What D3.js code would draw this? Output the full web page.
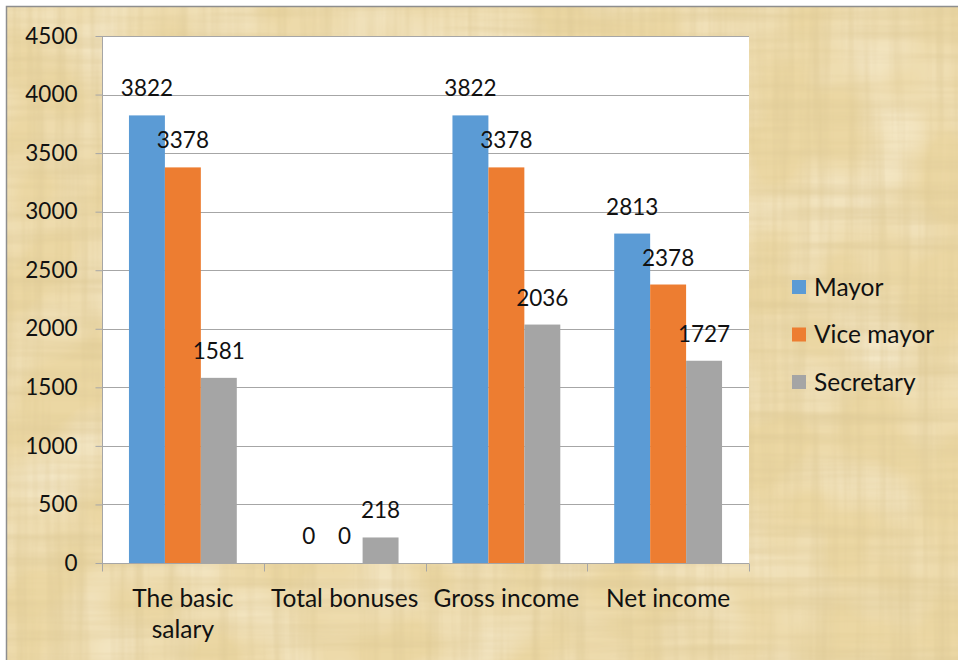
<!DOCTYPE html>
<html><head><meta charset="utf-8">
<script src="https://cdn.jsdelivr.net/npm/d3@7"></script>
<style>html,body{margin:0;padding:0;background:#fff;}svg{display:block;}</style>
</head><body>
<script>
const categories = ["The basic salary", "Total bonuses", "Gross income", "Net income"];
const seriesNames = ["Mayor", "Vice mayor", "Secretary"];
const mayor = [3822, 0, 3822, 2813];
const viceMayor = [3378, 0, 3378, 2378];
const secretary = [1581, 218, 2036, 1727];
const yTicks = [0, 500, 1000, 1500, 2000, 2500, 3000, 3500, 4000, 4500];
const colors = ["#5b9bd5", "#ed7d31", "#a5a5a5"];

const series = [mayor, viceMayor, secretary];
const W = 958, H = 660;
const plot = {l: 102, r: 749, t: 36, b: 563};
const FONT = "Lato, 'Open Sans', sans-serif";
const NUM_SIZE = 22.5, TXT_SIZE = 24.5;

const svg = d3.select("body").append("svg").attr("width", W).attr("height", H);
const defs = svg.append("defs");

const f = defs.append("filter").attr("id", "paper").attr("x", 0).attr("y", 0).attr("width", "100%").attr("height", "100%");
f.append("feTurbulence").attr("type", "fractalNoise").attr("baseFrequency", "0.004 0.09").attr("numOctaves", 3).attr("seed", 4).attr("result", "v");
f.append("feColorMatrix").attr("in", "v").attr("type", "matrix")
  .attr("values", "0 0 0 0 0.72  0 0 0 0 0.58  0 0 0 0 0.3  0 0 0 1.1 -0.42").attr("result", "vc");
f.append("feTurbulence").attr("type", "fractalNoise").attr("baseFrequency", "0.09 0.004").attr("numOctaves", 3).attr("seed", 9).attr("result", "h");
f.append("feColorMatrix").attr("in", "h").attr("type", "matrix")
  .attr("values", "0 0 0 0 0.72  0 0 0 0 0.58  0 0 0 0 0.3  0 0 0 1.1 -0.44").attr("result", "hc");
f.append("feTurbulence").attr("type", "fractalNoise").attr("baseFrequency", "0.012").attr("numOctaves", 2).attr("seed", 2).attr("result", "m");
f.append("feColorMatrix").attr("in", "m").attr("type", "matrix")
  .attr("values", "0 0 0 0 0.98  0 0 0 0 0.92  0 0 0 0 0.76  0 0 0 1.2 -0.45").attr("result", "mc");
const merge = f.append("feMerge");
merge.append("feMergeNode").attr("in", "SourceGraphic");
merge.append("feMergeNode").attr("in", "mc");
merge.append("feMergeNode").attr("in", "vc");
merge.append("feMergeNode").attr("in", "hc");

svg.append("rect").attr("x", 6).attr("y", 6).attr("width", W - 6).attr("height", H - 6)
  .attr("fill", "#ebd7a3").attr("filter", "url(#paper)");
svg.append("path").attr("d", `M6.5,${H}V6.5H${W}`).attr("fill", "none").attr("stroke", "#8e8e8e").attr("stroke-width", 1.5);

svg.append("rect").attr("x", plot.l).attr("y", plot.t).attr("width", plot.r - plot.l).attr("height", plot.b - plot.t).attr("fill", "#fff");

const y = d3.scaleLinear().domain([0, 4500]).range([plot.b, plot.t]);
const x0 = d3.scaleBand().domain(categories).range([plot.l, plot.r]).padding(0);
const barW = x0.bandwidth() / 4.5;
const x1 = d3.scaleBand().domain(seriesNames).range([0.75 * barW, 3.75 * barW]).padding(0);

// gridlines
svg.append("g").selectAll("line").data(yTicks.filter(d => d > 0)).join("line")
  .attr("x1", plot.l).attr("x2", plot.r)
  .attr("y1", d => Math.round(y(d)) + 0.5).attr("y2", d => Math.round(y(d)) + 0.5)
  .attr("stroke", "#a6a6a6").attr("stroke-width", 1);

// y axis
const yAxis = svg.append("g").attr("transform", `translate(${plot.l + 0.5},0)`)
  .call(d3.axisLeft(y).tickValues(yTicks).tickSize(7).tickPadding(18).tickFormat(d3.format("d")));
yAxis.select(".domain").attr("stroke", "#a6a6a6").attr("d", `M0,${plot.t}V${plot.b}`);
yAxis.selectAll(".tick line").attr("stroke", "#a6a6a6");
yAxis.selectAll(".tick text").attr("font-family", FONT).attr("font-size", NUM_SIZE).attr("fill", "#111");

// bars
const groups = svg.append("g").selectAll("g").data(categories).join("g")
  .attr("transform", c => `translate(${x0(c)},0)`);
groups.selectAll("rect").data((c, i) => seriesNames.map((s, j) => ({s, j, v: series[j][i]}))).join("rect")
  .attr("x", d => x1(d.s)).attr("width", x1.bandwidth())
  .attr("y", d => y(d.v)).attr("height", d => y(0) - y(d.v))
  .attr("fill", d => colors[d.j]);

// x axis
const xAxis = svg.append("g").attr("transform", `translate(0,${plot.b + 0.5})`);
xAxis.append("line").attr("x1", plot.l).attr("x2", plot.r).attr("stroke", "#a6a6a6");
const bounds = categories.map(c => x0(c)).concat([plot.r]);
xAxis.selectAll("line.tk").data(bounds).join("line").attr("class", "tk")
  .attr("x1", d => Math.round(d) + 0.5).attr("x2", d => Math.round(d) + 0.5).attr("y1", 0).attr("y2", 8)
  .attr("stroke", "#a6a6a6");

const xl = svg.append("g").selectAll("text").data(categories).join("text")
  .attr("x", c => x0(c) + x0.bandwidth() / 2).attr("y", 607)
  .attr("text-anchor", "middle").attr("font-family", FONT).attr("font-size", TXT_SIZE).attr("fill", "#111")
  .text(c => c);
xl.each(function(c) {
  const t = d3.select(this);
  if (this.getComputedTextLength() > x0.bandwidth() - 4) {
    const words = c.split(" ");
    t.text(null);
    let line = [], lines = [];
    const probe = t.append("tspan");
    words.forEach(w => {
      line.push(w);
      probe.text(line.join(" "));
      if (probe.node().getComputedTextLength() > x0.bandwidth() - 4 && line.length > 1) {
        line.pop(); lines.push(line.join(" ")); line = [w];
      }
    });
    lines.push(line.join(" "));
    probe.remove();
    lines.forEach((l, k) => t.append("tspan").attr("x", t.attr("x")).attr("dy", k === 0 ? 0 : 31).text(l));
  }
});

// value labels
groups.selectAll("text").data((c, i) => seriesNames.map((s, j) => ({s, j, v: series[j][i]}))).join("text")
  .attr("x", d => x1(d.s) + x1.bandwidth() / 2).attr("y", d => y(d.v) - 19)
  .attr("text-anchor", "middle").attr("font-family", FONT).attr("font-size", NUM_SIZE).attr("fill", "#111")
  .text(d => d.v);

// legend
const leg = svg.append("g").selectAll("g").data(seriesNames).join("g")
  .attr("transform", (d, i) => `translate(792,${287 + i * 47.5})`);
leg.append("rect").attr("x", 0).attr("y", -7).attr("width", 14).attr("height", 14).attr("fill", (d, i) => colors[i]);
leg.append("text").attr("x", 22).attr("y", 8.5).attr("font-family", FONT).attr("font-size", TXT_SIZE).attr("fill", "#111").text(d => d);
</script>
</body></html>
